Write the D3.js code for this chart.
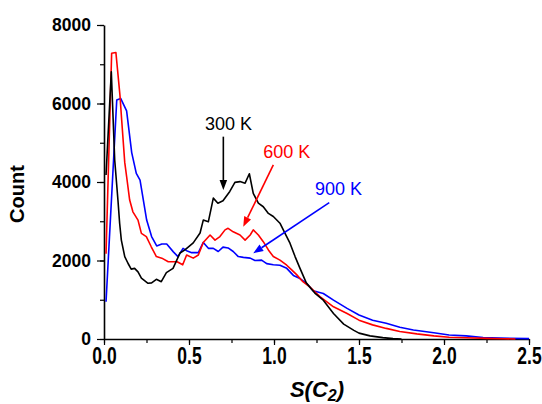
<!DOCTYPE html>
<html>
<head>
<meta charset="utf-8">
<script src="https://cdn.jsdelivr.net/npm/d3@7"></script>
<style>
  html, body { margin: 0; padding: 0; background: #fff; }
  svg { display: block; }
  text { font-family: Arial, "Liberation Sans", sans-serif; }
</style>
</head>
<body>
<svg id="chart" width="542" height="404"></svg>
<script>
// ---------- data ----------
const xTicks = [0.0, 0.5, 1.0, 1.5, 2.0, 2.5];
const yTicks = [0, 2000, 4000, 6000, 8000];
const xTickLabels = ["0.0", "0.5", "1.0", "1.5", "2.0", "2.5"];
const yTickLabels = ["0", "2000", "4000", "6000", "8000"];
const seriesNames = ["300 K", "600 K", "900 K"];
const seriesColors = ["#000000", "#ff0000", "#0000ff"];

const s300X = [0.012, 0.043, 0.063, 0.082, 0.092, 0.102, 0.122, 0.141, 0.16, 0.18, 0.2, 0.22, 0.259, 0.28, 0.308, 0.337, 0.367, 0.406, 0.447, 0.476, 0.525, 0.565, 0.584, 0.614, 0.643, 0.67, 0.70, 0.74, 0.77, 0.80, 0.83, 0.855, 0.878, 0.908, 0.937, 0.967, 0.996, 1.035, 1.065, 1.094, 1.124, 1.153, 1.19, 1.24, 1.29, 1.35, 1.41, 1.47, 1.5, 1.565, 1.64, 1.7, 1.75];
const s300Y = [4180, 6810, 4560, 3540, 2950, 2520, 2100, 1930, 1780, 1800, 1710, 1550, 1420, 1430, 1520, 1460, 1690, 1800, 2190, 2270, 2450, 2700, 3030, 2990, 3590, 3460, 3520, 3760, 3990, 4010, 3970, 4210, 3710, 3460, 3370, 3200, 3120, 2950, 2690, 2440, 2100, 1800, 1430, 1170, 990, 650, 380, 220, 150, 80, 35, 10, 0];

const s600X = [0.012, 0.045, 0.07, 0.094, 0.104, 0.122, 0.133, 0.151, 0.17, 0.2, 0.22, 0.249, 0.278, 0.308, 0.34, 0.378, 0.43, 0.463, 0.486, 0.525, 0.555, 0.584, 0.624, 0.653, 0.682, 0.712, 0.73, 0.76, 0.8, 0.83, 0.86, 0.878, 0.908, 0.937, 0.967, 0.996, 1.035, 1.075, 1.104, 1.133, 1.17, 1.21, 1.27, 1.35, 1.43, 1.5, 1.58, 1.66, 1.74, 1.84, 1.94, 2.03, 2.13, 2.25, 2.35, 2.42];
const s600Y = [2170, 7280, 7300, 6200, 5580, 4500, 4140, 3540, 3240, 3030, 2690, 2610, 2350, 2100, 2060, 1970, 1970, 1890, 2140, 2060, 2140, 2460, 2650, 2520, 2610, 2780, 2820, 2730, 2650, 2520, 2650, 2780, 2650, 2480, 2270, 2100, 2010, 1880, 1760, 1640, 1460, 1330, 1080, 820, 650, 480, 360, 270, 190, 130, 80, 45, 30, 15, 8, 0];

const s900X = [0.012, 0.075, 0.098, 0.133, 0.163, 0.19, 0.212, 0.251, 0.28, 0.31, 0.34, 0.369, 0.408, 0.435, 0.465, 0.486, 0.516, 0.555, 0.584, 0.614, 0.643, 0.672, 0.70, 0.73, 0.76, 0.79, 0.82, 0.86, 0.888, 0.927, 0.957, 0.996, 1.035, 1.075, 1.114, 1.153, 1.19, 1.23, 1.29, 1.35, 1.43, 1.5, 1.58, 1.66, 1.74, 1.82, 1.94, 2.03, 2.13, 2.23, 2.33, 2.5];
const s900Y = [950, 6090, 6130, 5810, 4750, 4220, 4050, 3030, 2610, 2370, 2420, 2420, 2220, 2100, 2310, 2250, 2200, 2200, 2460, 2310, 2310, 2230, 2340, 2320, 2230, 2100, 2080, 2060, 2000, 2010, 1920, 1890, 1880, 1800, 1620, 1540, 1420, 1230, 1160, 990, 780, 610, 480, 400, 300, 230, 160, 100, 80, 40, 25, 10];

// annotation anchors in data units: label start, arrow tail, arrow head
const annLabelX = [0.594, 0.937, 1.241];
const annLabelY = [5325, 4600, 3669];
const annTailX = [0.702, 0.996, 1.325];
const annTailY = [5155, 4434, 3473];
const annHeadX = [0.702, 0.819, 0.878];
const annHeadY = [3797, 2861, 2184];

// ---------- chart ----------
const svg = d3.select("#chart");
const margin = {left: 104, right: 13, top: 25, bottom: 65};
const W = 542, H = 404;
const x = d3.scaleLinear().domain([0, 2.5]).range([margin.left, W - margin.right]);
const y = d3.scaleLinear().domain([0, 8000]).range([H - margin.bottom, margin.top]);

const axisColor = "#000";

// minor ticks
const xMinor = d3.range(0, 2.5001, 0.25);
const yMinor = d3.range(0, 8001, 1000);
svg.append("g")
  .attr("transform", `translate(0,${y(0)})`)
  .call(d3.axisBottom(x).tickValues(xMinor).tickSize(4).tickFormat(""))
  .call(g => g.select(".domain").remove())
  .call(g => g.selectAll("line").attr("stroke", axisColor).attr("stroke-width", 1.2));
svg.append("g")
  .attr("transform", `translate(${x(0)},0)`)
  .call(d3.axisLeft(y).tickValues(yMinor).tickSize(4).tickFormat(""))
  .call(g => g.select(".domain").remove())
  .call(g => g.selectAll("line").attr("stroke", axisColor).attr("stroke-width", 1.2));

// major axes
const xs = 1.33;
const gx = svg.append("g")
  .attr("transform", `translate(0,${y(0)})`)
  .call(d3.axisBottom(x).tickValues(xTicks).tickSize(6).tickSizeOuter(0)
        .tickFormat((d, i) => xTickLabels[i]));
gx.select(".domain").attr("stroke", axisColor).attr("stroke-width", 1.6);
gx.selectAll(".tick line").attr("stroke", axisColor).attr("stroke-width", 1.2);
gx.selectAll(".tick text")
  .attr("fill", "#000")
  .attr("font-size", "17.5px")
  .attr("font-weight", "bold")
  .attr("font-family", "Arial, 'Liberation Sans', sans-serif")
  .attr("y", 25 / xs)
  .attr("dy", 0)
  .attr("transform", `scale(1,${xs})`);

const gy = svg.append("g")
  .attr("transform", `translate(${x(0)},0)`)
  .call(d3.axisLeft(y).tickValues(yTicks).tickSize(7).tickSizeOuter(0)
        .tickPadding(6)
        .tickFormat((d, i) => yTickLabels[i]));
gy.select(".domain").attr("stroke", axisColor).attr("stroke-width", 1.6);
gy.selectAll(".tick line").attr("stroke", axisColor).attr("stroke-width", 1.2);
gy.selectAll(".tick text")
  .attr("fill", "#000")
  .attr("font-size", "17.5px")
  .attr("font-weight", "bold")
  .attr("font-family", "Arial, 'Liberation Sans', sans-serif");

// axis titles
svg.append("text")
  .attr("transform", `translate(24,${(y(0) + y(8000)) / 2 + 12}) rotate(-90)`)
  .attr("text-anchor", "middle")
  .attr("font-size", "20px")
  .attr("font-weight", "bold")
  .text("Count");

const xt = svg.append("text")
  .attr("x", 317)
  .attr("y", 397)
  .attr("text-anchor", "middle")
  .attr("font-size", "22px")
  .attr("font-weight", "bold")
  .attr("font-style", "italic");
xt.append("tspan").text("S(C");
xt.append("tspan").attr("font-size", "16px").attr("dy", 4).text("2");
xt.append("tspan").attr("dy", -4).text(")");

// series lines
const line = d3.line().x(d => x(d[0])).y(d => y(d[1]));
const allSeries = [
  d3.zip(s300X, s300Y),
  d3.zip(s600X, s600Y),
  d3.zip(s900X, s900Y)
];
// draw blue, red, black order so black is on top like reference
[2, 1, 0].forEach(i => {
  svg.append("path")
    .datum(allSeries[i])
    .attr("fill", "none")
    .attr("stroke", seriesColors[i])
    .attr("stroke-width", 1.6)
    .attr("stroke-linejoin", "round")
    .attr("d", line);
});

// annotations
seriesNames.forEach((name, i) => {
  svg.append("text")
    .attr("x", x(annLabelX[i]))
    .attr("y", y(annLabelY[i]))
    .attr("font-size", "18px")
    .attr("fill", seriesColors[i])
    .text(name);
  const x1 = x(annTailX[i]), y1 = y(annTailY[i]);
  const x2 = x(annHeadX[i]), y2 = y(annHeadY[i]);
  const ang = Math.atan2(y2 - y1, x2 - x1);
  const L = 10, hw = 3.8;
  const bx = x2 - L * Math.cos(ang), by = y2 - L * Math.sin(ang);
  svg.append("line")
    .attr("x1", x1).attr("y1", y1)
    .attr("x2", bx).attr("y2", by)
    .attr("stroke", seriesColors[i])
    .attr("stroke-width", 1.6);
  const px = -Math.sin(ang) * hw, py = Math.cos(ang) * hw;
  svg.append("path")
    .attr("d", `M${x2},${y2}L${bx + px},${by + py}L${bx - px},${by - py}Z`)
    .attr("fill", seriesColors[i]);
});
</script>
</body>
</html>
